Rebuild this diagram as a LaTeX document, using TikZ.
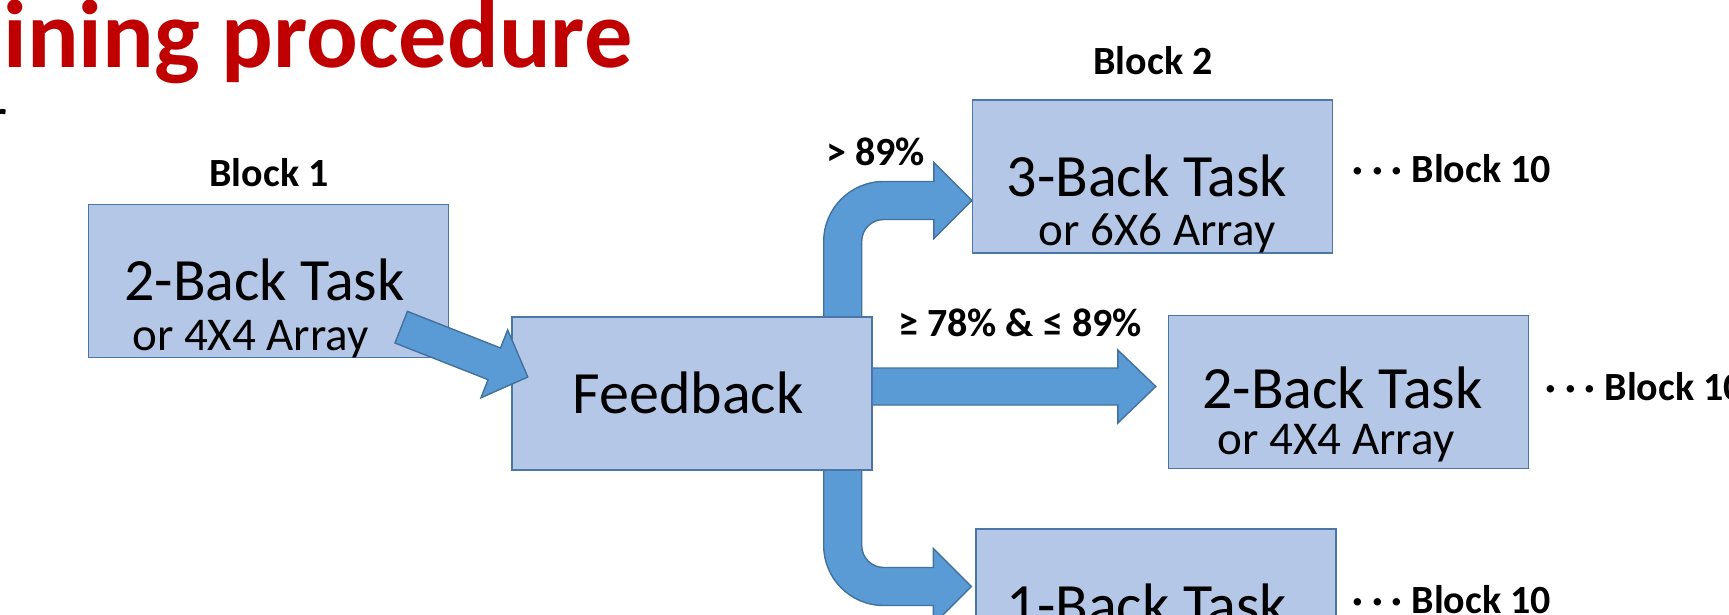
\documentclass[tikz,border=0pt]{standalone}
\usepackage{fontspec}
\setmainfont{Carlito}
\usetikzlibrary{calc}
\definecolor{boxfill}{HTML}{B4C7E7}
\definecolor{boxline}{HTML}{4A76A8}
\definecolor{arrowfill}{HTML}{5B9BD5}
\definecolor{arrowline}{HTML}{41719C}
\definecolor{titlered}{HTML}{C00000}
\pgfdeclarelayer{background}
\pgfsetlayers{background,main}

% straight block arrow: #1 name, #2 tail centre, #3 tip,
% #4 shaft half width, #5 head half width, #6 head length
\newcommand{\blockarrow}[6]{%
  \coordinate (#1h) at ($(#3)!#6!(#2)$);
  \path[flowarrow]
    ($(#2)!#4!90:(#3)$) -- ($(#1h)!#4!90:(#3)$) -- ($(#1h)!#5!90:(#3)$) --
    (#3) --
    ($(#1h)!#5!-90:(#3)$) -- ($(#1h)!#4!-90:(#3)$) -- ($(#2)!#4!-90:(#3)$) -- cycle;}

\begin{document}
\begin{tikzpicture}[x=0.5pt,y=-0.5pt,
  taskbox/.style={draw=boxline, fill=boxfill, line width=0.7pt, inner sep=0pt,
    minimum width=180pt, minimum height=76.5pt},
  flowarrow/.style={fill=arrowfill, draw=arrowline, line width=0.7pt, line join=miter},
  big/.style={font=\fontsize{30}{36}\selectfont, inner sep=0pt, anchor=base},
  sub/.style={font=\fontsize{23.5}{28}\selectfont, inner sep=0pt, anchor=base},
  lbl/.style={font=\bfseries\fontsize{20}{24}\selectfont, inner sep=0pt, anchor=base}]
\useasboundingbox (0,0) rectangle (1729,615);

% heading
\node[font=\bfseries\fontsize{48.2}{58}\selectfont, text=titlered, inner sep=0pt,
  anchor=base west] (title) at (3,68) {ining procedure};
\node[font=\fontsize{30}{36}\selectfont, inner sep=0pt, anchor=base east] (frag) at (8,139) {r};

% task boxes
\node[taskbox] (b1) at (268.5,281) {};
\node[taskbox] (fb) at (692,393.5) {};
\node[taskbox] (tb) at (1152.5,176.5) {};
\node[taskbox] (mb) at (1348.5,392) {};
\node[taskbox] (ob) at (1156,605.5) {};

% box texts
\node[big] (b1t) at (264.5,300) {2-Back Task};
\node[sub] (b1s) at (250.5,350.5) {or 4X4 Array};
\node[big] (fbt) at (688,413) {Feedback};
\node[big] (tbt) at (1147,196) {3-Back Task};
\node[sub] (tbs) at (1157,245) {or 6X6 Array};
\node[big] (mbt) at (1342.5,408) {2-Back Task};
\node[sub] (mbs) at (1336,454) {or 4X4 Array};
\node[big] (obt) at (1147,625) {1-Back Task};

% labels
\node[lbl] (l1) at (269,186) {Block 1};
\node[lbl] (l2) at (1153,75) {Block 2};
\node[lbl] (p1) at (875.5,165) {> 89\%};
\node[lbl] (p2) at (1020,336) {≥ 78\% \& ≤ 89\%};
\node[lbl, anchor=base west] (n1) at (1352,183) {· · · Block 10};
\node[lbl, anchor=base west] (n2) at (1545,400) {· · · Block 10};
\node[lbl, anchor=base west] (n3) at (1352,613) {· · · Block 10};

% arrows leaving the feedback box, behind it
\begin{pgfonlayer}{background}
  % turning up into the 3-back block
  \coordinate (ub) at ($(fb.north east)+(-30,20)$);
  \coordinate (ut) at ($(tb.west)+(0,24)$);
  \path[flowarrow] ($(ub)+(-19,0)$) -- ($(ub |- ut)+(-19,41)$)
    arc[start angle=180, end angle=90, radius=30pt]
    -- ($(ut)+(-38,-19)$) -- ($(ut)+(-38,-38)$) -- (ut)
    -- ($(ut)+(-38,38)$) -- ($(ut)+(-38,19)$) -- ($(ub |- ut)+(41,19)$)
    arc[start angle=90, end angle=180, radius=11pt]
    -- ($(ub)+(19,0)$) -- cycle;

  % turning down into the 1-back block
  \coordinate (db) at ($(fb.south east)+(-30,-20)$);
  \coordinate (dt) at ($(ob.west)+(-4,-19)$);
  \path[flowarrow] ($(db)+(-19,0)$) -- ($(db |- dt)+(-19,-41)$)
    arc[start angle=180, end angle=270, radius=30pt]
    -- ($(dt)+(-38,19)$) -- ($(dt)+(-38,38)$) -- (dt)
    -- ($(dt)+(-38,-38)$) -- ($(dt)+(-38,-19)$) -- ($(db |- dt)+(41,-19)$)
    arc[start angle=270, end angle=180, radius=11pt]
    -- ($(db)+(19,0)$) -- cycle;

  % straight on to the next 2-back block
  \coordinate (m0) at ($(fb.east)+(-20,-7)$);
  \coordinate (m1) at ($(mb.west)+(-12,-5.5)$);
  \blockarrow{ma}{m0}{m1}{9.25pt}{18.25pt}{19pt}
\end{pgfonlayer}

% arrow from the first block into the feedback box
\coordinate (d0) at ($(b1.south east)+(-48,-31)$);
\coordinate (d1) at ($(fb.west)+(16.5,-16.5)$);
\blockarrow{da}{d0}{d1}{8.5pt}{18.25pt}{18pt}
\end{tikzpicture}
\end{document}
